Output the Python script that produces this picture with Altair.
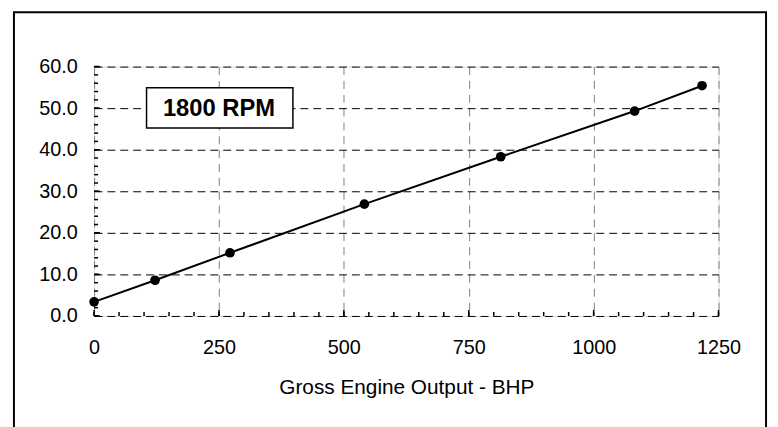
import altair as alt
import pandas as pd

# Data
bhp = [0, 122, 272, 541, 814, 1082, 1217]
values = [3.4, 8.6, 15.2, 26.9, 38.3, 49.3, 55.4]

x_major = [0, 250, 500, 750, 1000, 1250]
y_major = [0, 10, 20, 30, 40, 50, 60]
x_minor = [0, 50, 100, 150, 200, 250, 300, 350, 400, 450, 500, 550, 600, 650,
           700, 750, 800, 850, 900, 950, 1000, 1050, 1100, 1150, 1200, 1250]
y_minor = [0, 2, 4, 6, 8, 10, 12, 14, 16, 18, 20, 22, 24, 26, 28, 30, 32, 34,
           36, 38, 40, 42, 44, 46, 48, 50, 52, 54, 56, 58, 60]

label_text = ["1800 RPM"]
label_x = [250]
label_y = [50]
label_box_x = [105]
label_box_x2 = [398]
label_box_y = [45.2]
label_box_y2 = [54.9]

W, H = 631, 252
FONT = "Liberation Sans"

df = pd.DataFrame({"bhp": bhp, "val": values})
xs = alt.Scale(domain=[0, 1250], nice=False)
ys = alt.Scale(domain=[0, 60], nice=False)

base = alt.Chart(df)

line = base.mark_line(color="black", strokeWidth=2, clip=False).encode(
    x=alt.X("bhp:Q", scale=xs,
            axis=alt.Axis(values=x_major, format="d", title="Gross Engine Output - BHP",
                          grid=True, gridColor="#808080", gridDash=[8, 6],
                          gridWidth=1, ticks=False, domain=False,
                          labelFont=FONT, labelFontSize=20, labelColor="black",
                          labelPadding=38, labelBaseline="alphabetic",
                          labelFlush=False,
                          titleFont=FONT, titleFontSize=21, titleFontWeight="normal",
                          titleColor="black", titleBaseline="alphabetic",
                          titleY=78)),
    y=alt.Y("val:Q", scale=ys,
            axis=alt.Axis(values=y_major, format=".1f", title=None,
                          grid=True, gridColor="black", gridDash=[8, 5],
                          gridWidth=1, ticks=False, domain=False,
                          labelFont=FONT, labelFontSize=20, labelColor="black",
                          labelPadding=17, labelFlush=False)),
)

pts = base.mark_circle(color="black", size=95, opacity=1, clip=False).encode(
    x=alt.X("bhp:Q", scale=xs), y=alt.Y("val:Q", scale=ys))

xmaj = alt.Chart(pd.DataFrame({"t": x_major})).mark_rule(color="black", strokeWidth=1.5).encode(
    x=alt.X("t:Q", scale=xs), y=alt.value(H), y2=alt.value(H - 6))
xmin = alt.Chart(pd.DataFrame({"t": x_minor})).mark_rule(color="black", strokeWidth=1.5).encode(
    x=alt.X("t:Q", scale=xs), y=alt.value(H), y2=alt.value(H - 4))
ymaj = alt.Chart(pd.DataFrame({"t": y_major})).mark_rule(color="black", strokeWidth=1.5).encode(
    y=alt.Y("t:Q", scale=ys), x=alt.value(0), x2=alt.value(6))
ymin = alt.Chart(pd.DataFrame({"t": y_minor})).mark_rule(color="black", strokeWidth=1.5).encode(
    y=alt.Y("t:Q", scale=ys), x=alt.value(0), x2=alt.value(4))

ldf = pd.DataFrame({"text": label_text, "x": label_x, "y": label_y,
                    "bx": label_box_x, "bx2": label_box_x2,
                    "by": label_box_y, "by2": label_box_y2})
box = alt.Chart(ldf).mark_rect(fill="white", stroke="black", strokeWidth=1.5).encode(
    x=alt.X("bx:Q", scale=xs), x2="bx2:Q", y=alt.Y("by:Q", scale=ys), y2="by2:Q")
txt = alt.Chart(ldf).mark_text(font=FONT, fontSize=24, fontWeight="bold",
                               color="black", baseline="middle", align="center", dy=1).encode(
    x=alt.X("x:Q", scale=xs), y=alt.Y("y:Q", scale=ys), text="text:N")

outer = alt.Chart(ldf).mark_rect(filled=False, stroke="black", strokeWidth=2, clip=False).encode(
    x=alt.value(-81), x2=alt.value(679), y=alt.value(-55), y2=alt.value(400))

chart = alt.layer(outer, xmin, xmaj, ymin, ymaj, line, pts, box, txt).properties(
    width=W, height=H,
    autosize=alt.AutoSizeParams(type="none"),
    padding={"left": 87, "top": 57, "right": 52, "bottom": 110},
).configure_view(stroke="black", strokeWidth=2).configure(background="white")

chart.save("out.html", embed_options={"renderer": "svg", "actions": False})
